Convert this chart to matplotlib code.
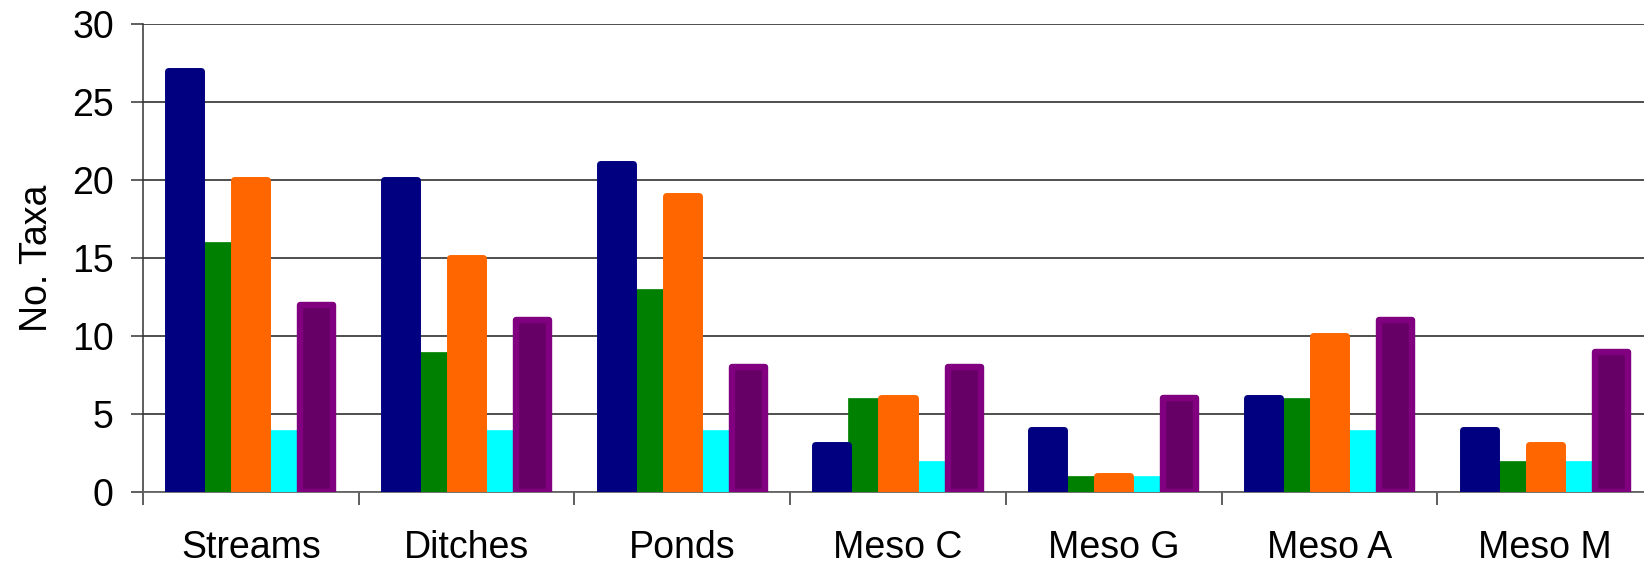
import numpy as np
import matplotlib
matplotlib.use("Agg")
from matplotlib import pyplot as plt

# --- data ------------------------------------------------------
habitats = ["Streams", "Ditches", "Ponds", "Meso C", "Meso G", "Meso A", "Meso M"]
navy_vals = [27, 20, 21, 3, 4, 6, 4]
green_vals = [16, 9, 13, 6, 1, 6, 2]
orange_vals = [20, 15, 19, 6, 1, 10, 3]
cyan_vals = [4, 4, 4, 2, 1, 4, 2]
purple_vals = [12, 11, 8, 8, 6, 11, 9]
y_ticks = [0, 5, 10, 15, 20, 25, 30]

plt.rcParams["font.family"] = ["Liberation Sans", "DejaVu Sans"]

fig = plt.figure(figsize=(16.44, 5.64), dpi=100)
ax = fig.add_axes([143 / 1644, 72 / 564, 1510 / 1644, 468 / 564])

x = np.arange(len(habitats))
w = 0.153
offsets = np.arange(5) - 2

# (values, face, edge, edge width, zorder)
series = [
    (navy_vals, "#000080", "#000080", 5.0, 4),
    (green_vals, "#008000", "#008000", 0.5, 3),
    (orange_vals, "#FF6600", "#FF6600", 5.0, 4),
    (cyan_vals, "#00FFFF", "#00FFFF", 0.5, 3),
    (purple_vals, "#660066", "#800080", 4.6, 4),
]
for off, (vals, fc, ec, lw, z) in zip(offsets, series):
    ax.bar(x + off * w, vals, width=w, color=fc, edgecolor=ec, linewidth=lw,
           joinstyle="round", zorder=z)

ax.set_xlim(-0.5, 6.5)
ax.set_ylim(0, 30)
ax.set_yticks(y_ticks)
ax.yaxis.grid(True, color="#404040", linewidth=1.3, zorder=0)
ax.set_axisbelow(True)

ax.set_xticks(x)
ax.set_xticklabels(habitats, fontsize=27)
ax.set_xticks(np.arange(-0.5, 6.5, 1.0), minor=True)
ax.tick_params(axis="x", which="major", length=0, pad=27)
ax.tick_params(axis="x", which="minor", length=9, width=1.1, color="#333333")
ax.tick_params(axis="y", labelsize=27, length=9, width=1.1, pad=12, color="#333333")

for side in ["top", "right"]:
    ax.spines[side].set_visible(False)
ax.spines["left"].set_color("#333333")
ax.spines["left"].set_linewidth(1.1)
ax.spines["bottom"].set_color("#666666")
ax.spines["bottom"].set_linewidth(1.3)

ax.set_ylabel("No. Taxa", fontsize=27, labelpad=12)

fig.savefig("out.png", dpi=100)
